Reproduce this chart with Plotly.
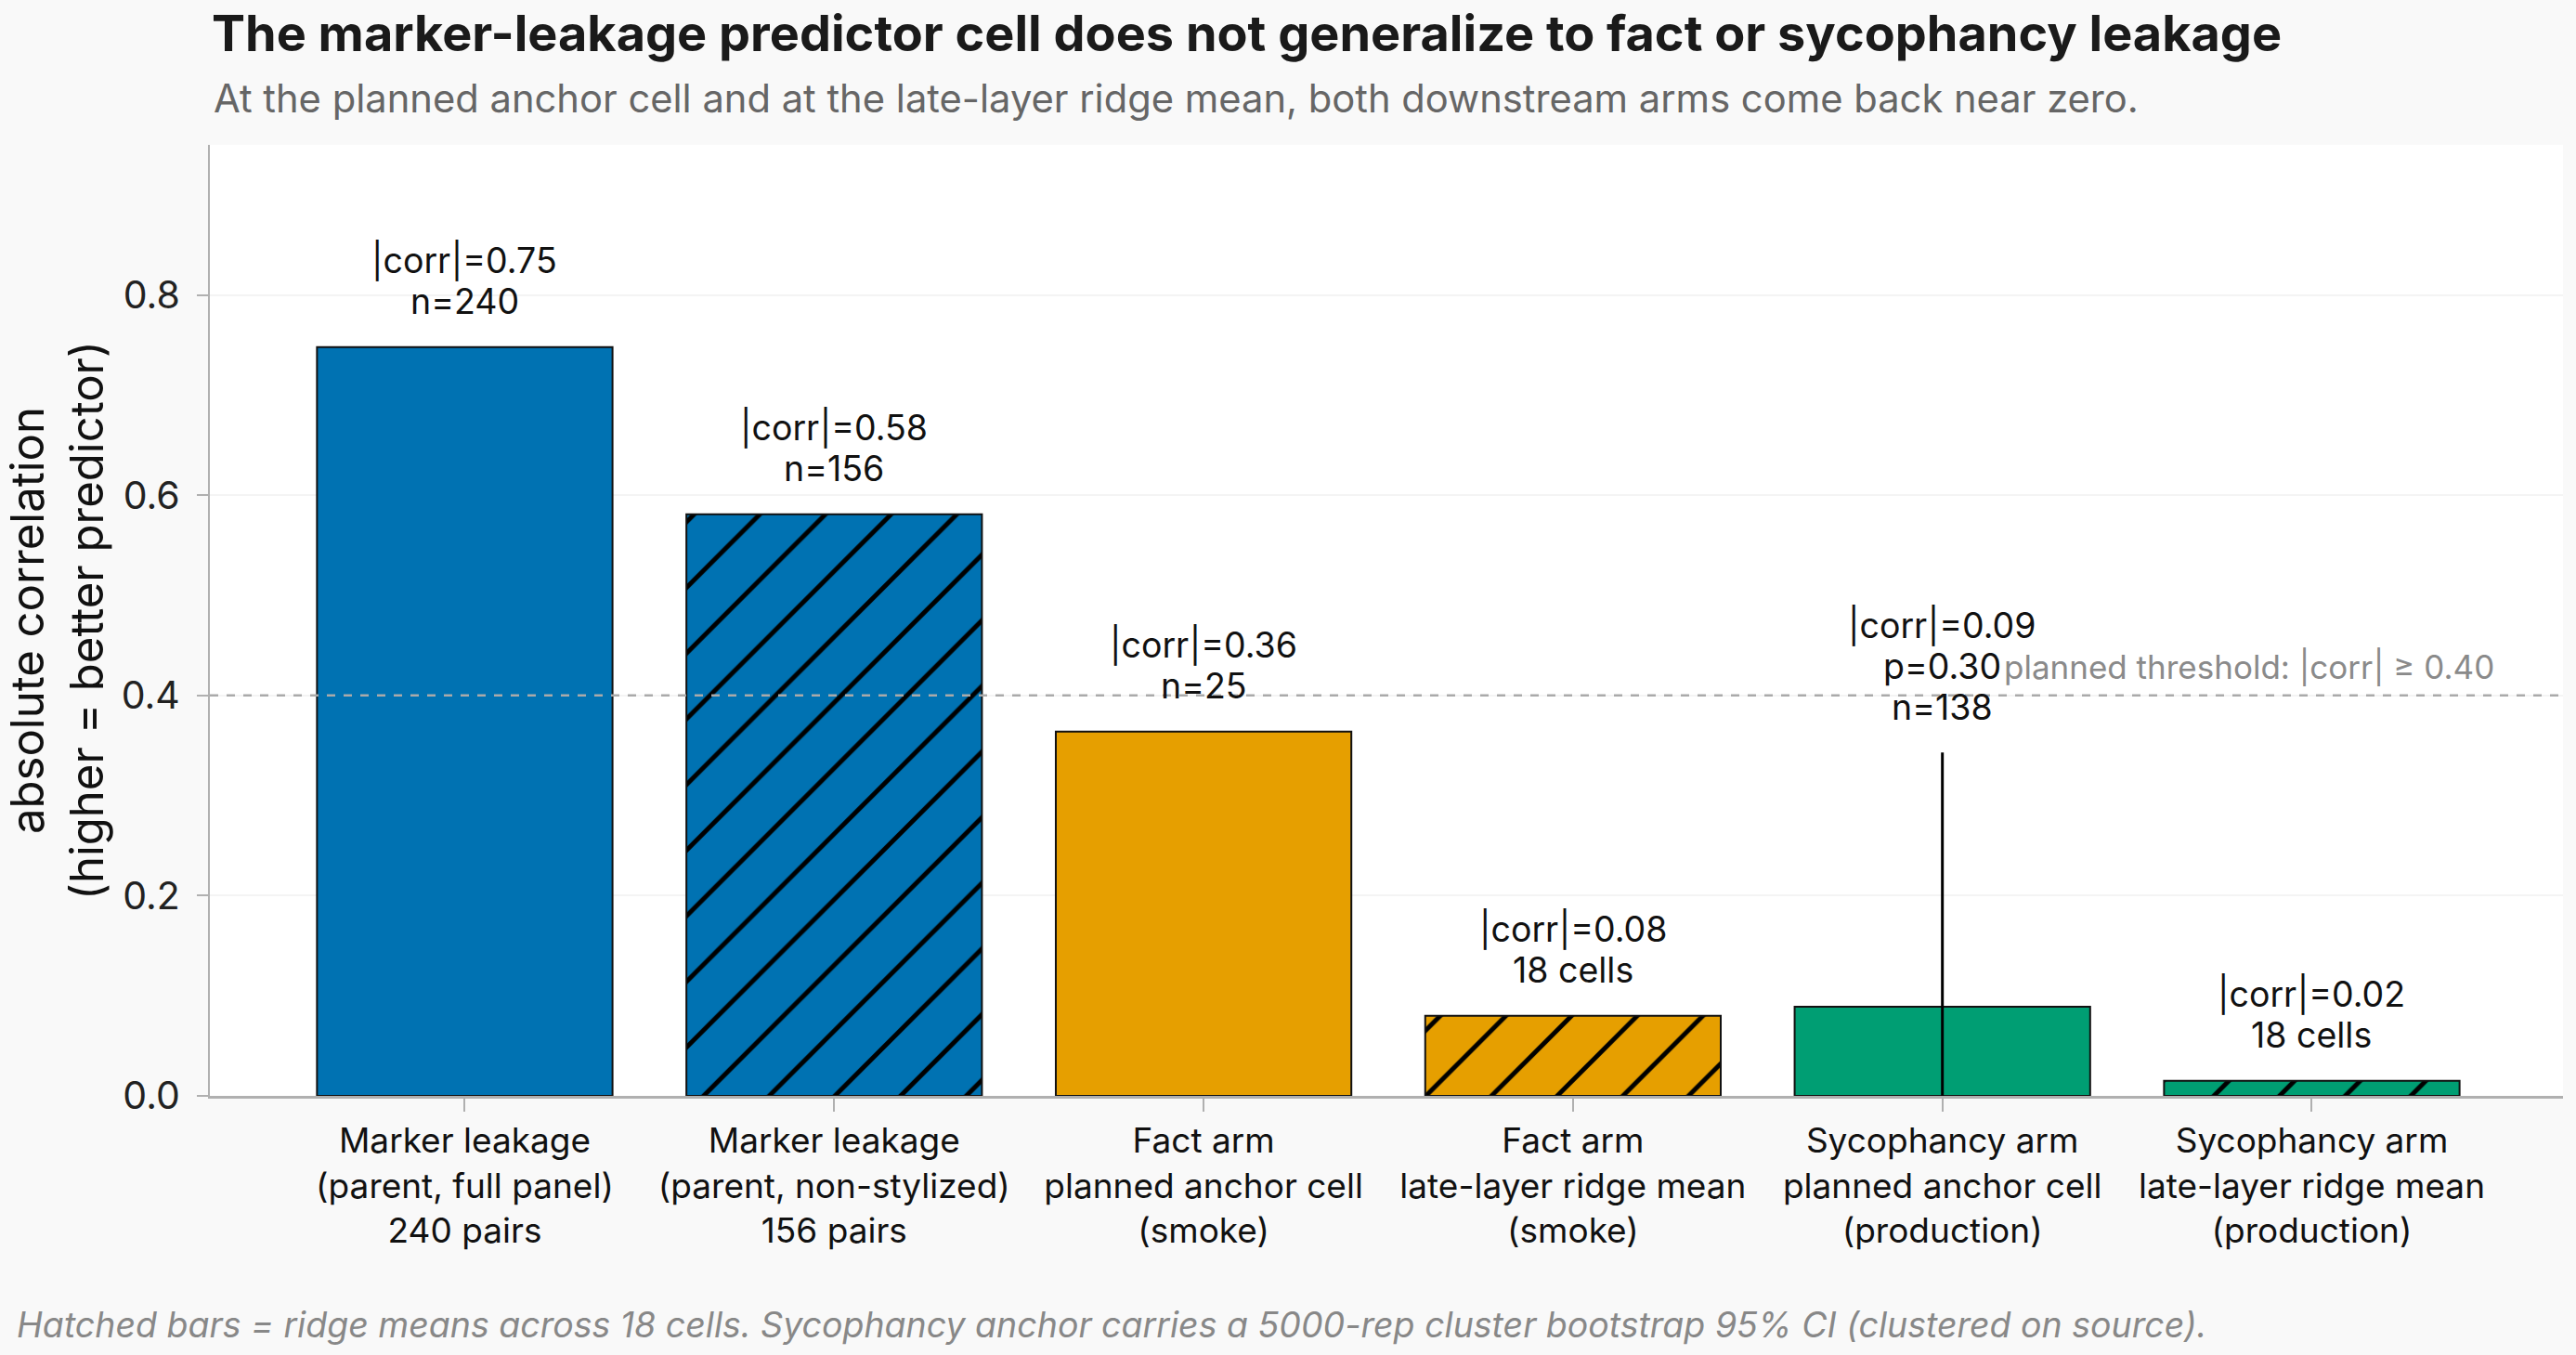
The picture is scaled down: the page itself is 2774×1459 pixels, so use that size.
import plotly.graph_objects as go

categories = [
    "Marker leakage<br>(parent, full panel)<br>240 pairs",
    "Marker leakage<br>(parent, non-stylized)<br>156 pairs",
    "Fact arm<br>planned anchor cell<br>(smoke)",
    "Fact arm<br>late-layer ridge mean<br>(smoke)",
    "Sycophancy arm<br>planned anchor cell<br>(production)",
    "Sycophancy arm<br>late-layer ridge mean<br>(production)",
]
values = [0.748, 0.581, 0.364, 0.080, 0.089, 0.015]
ci_upper = [None, None, None, None, 0.343, None]
ci_lower = [None, None, None, None, 0.0, None]
bar_colors = ["#0072B2", "#0072B2", "#E69F00", "#E69F00", "#009E73", "#009E73"]
hatched = [False, True, False, True, False, True]
labels = [
    ["|corr|=0.75", "n=240"],
    ["|corr|=0.58", "n=156"],
    ["|corr|=0.36", "n=25"],
    ["|corr|=0.08", "18 cells"],
    ["|corr|=0.09", "p=0.30", "n=138"],
    ["|corr|=0.02", "18 cells"],
]
threshold = 0.40

FONT = "Inter, Roboto, sans-serif"

# plot area in pixels
W, H = 2774, 1459
L, R, T, B = 226, 14, 156, 279
PW, PH = W - L - R, H - T - B


def px_x(px):
    return (px - L) / PW


def px_y(py):
    return (H - B - py) / PH


x_idx = list(range(len(categories)))

fig = go.Figure()
for i, v in enumerate(values):
    has_ci = ci_upper[i] is not None
    fig.add_trace(go.Bar(
        x=[i],
        y=[v],
        width=0.8,
        marker=dict(
            color=bar_colors[i],
            line=dict(color="#111111", width=2),
            pattern=dict(
                shape="/" if hatched[i] else "",
                fgcolor="#000000",
                fgopacity=1,
                size=50,
                solidity=0.1,
                fillmode="overlay",
            ),
        ),
        error_y=dict(
            type="data",
            symmetric=False,
            array=[ci_upper[i] - v] if has_ci else [0],
            arrayminus=[v - ci_lower[i]] if has_ci else [0],
            color="#000000",
            thickness=3,
            width=0,
            visible=has_ci,
        ),
        showlegend=False,
        hoverinfo="skip",
    ))

# threshold line
fig.add_shape(type="line", xref="paper", yref="y", x0=0, x1=1, y0=threshold, y1=threshold,
              line=dict(color="#aaaaaa", width=2.5, dash="dash"), layer="above")
fig.add_annotation(xref="paper", yref="y", x=px_x(2688), y=threshold, xanchor="right", yanchor="bottom",
                   text="planned threshold: |corr| ≥ 0.40", showarrow=False,
                   font=dict(family=FONT, size=35, color="#8a8a8a"), yshift=8)

# value labels above bars (one annotation per line, stacked upward)
for i, (v, u, lines) in enumerate(zip(values, ci_upper, labels)):
    top = u if u is not None else v
    for k, line in enumerate(reversed(lines)):
        fig.add_annotation(x=i, y=top, text=line, showarrow=False, yanchor="middle", xanchor="center",
                           yshift=49 + 44 * k, font=dict(family=FONT, size=37.5, color="#111111"))

fig.update_layout(
    width=W, height=H,
    paper_bgcolor="#f9f9f9",
    plot_bgcolor="#ffffff",
    margin=dict(l=L, r=R, t=T, b=B),
    font=dict(family=FONT, color="#222222"),
    title=dict(
        text="<b>The marker-leakage predictor cell does not generalize to fact or sycophancy leakage</b>",
        x=228 / W, xanchor="left", y=1 - 36 / H, yanchor="middle",
        font=dict(family=FONT, size=54, color="#1a1a1a"),
    ),
    barmode="overlay",
)
fig.add_annotation(xref="paper", yref="paper", x=px_x(228), y=px_y(106), xanchor="left", yanchor="middle",
                   text="At the planned anchor cell and at the late-layer ridge mean, both downstream arms come back near zero.",
                   showarrow=False, font=dict(family=FONT, size=41.7, color="#666666"))
fig.add_annotation(xref="paper", yref="paper", x=px_x(16), y=px_y(1426), xanchor="left", yanchor="middle",
                   text="<i>Hatched bars = ridge means across 18 cells. Sycophancy anchor carries a 5000-rep cluster bootstrap 95% CI (clustered on source).</i>",
                   showarrow=False, font=dict(family=FONT, size=37.5, color="#888888"))

fig.update_xaxes(
    range=[-0.69, 5.68],
    tickmode="array", tickvals=x_idx, ticktext=categories,
    tickfont=dict(family=FONT, size=37, color="#111111"),
    showline=True, linecolor="#b0b0b0", linewidth=3,
    ticks="outside", ticklen=14, tickcolor="#b0b0b0", tickwidth=1.5,
    showgrid=False, zeroline=False,
)
fig.update_yaxes(
    range=[0, 0.95],
    tickvals=[0, 0.2, 0.4, 0.6, 0.8], ticktext=["0.0", "0.2", "0.4", "0.6", "0.8"],
    tickfont=dict(family=FONT, size=41, color="#222222"),
    ticklabelstandoff=10,
    title=dict(text="absolute correlation<br>(higher = better predictor)",
               font=dict(family=FONT, size=49, color="#111111"), standoff=20),
    showline=True, linecolor="#b0b0b0", linewidth=2,
    ticks="outside", ticklen=12, tickcolor="#b0b0b0", tickwidth=1.5,
    showgrid=True, gridcolor="#f4f4f4", gridwidth=2, zeroline=False,
)

fig.write_html("out.html")
